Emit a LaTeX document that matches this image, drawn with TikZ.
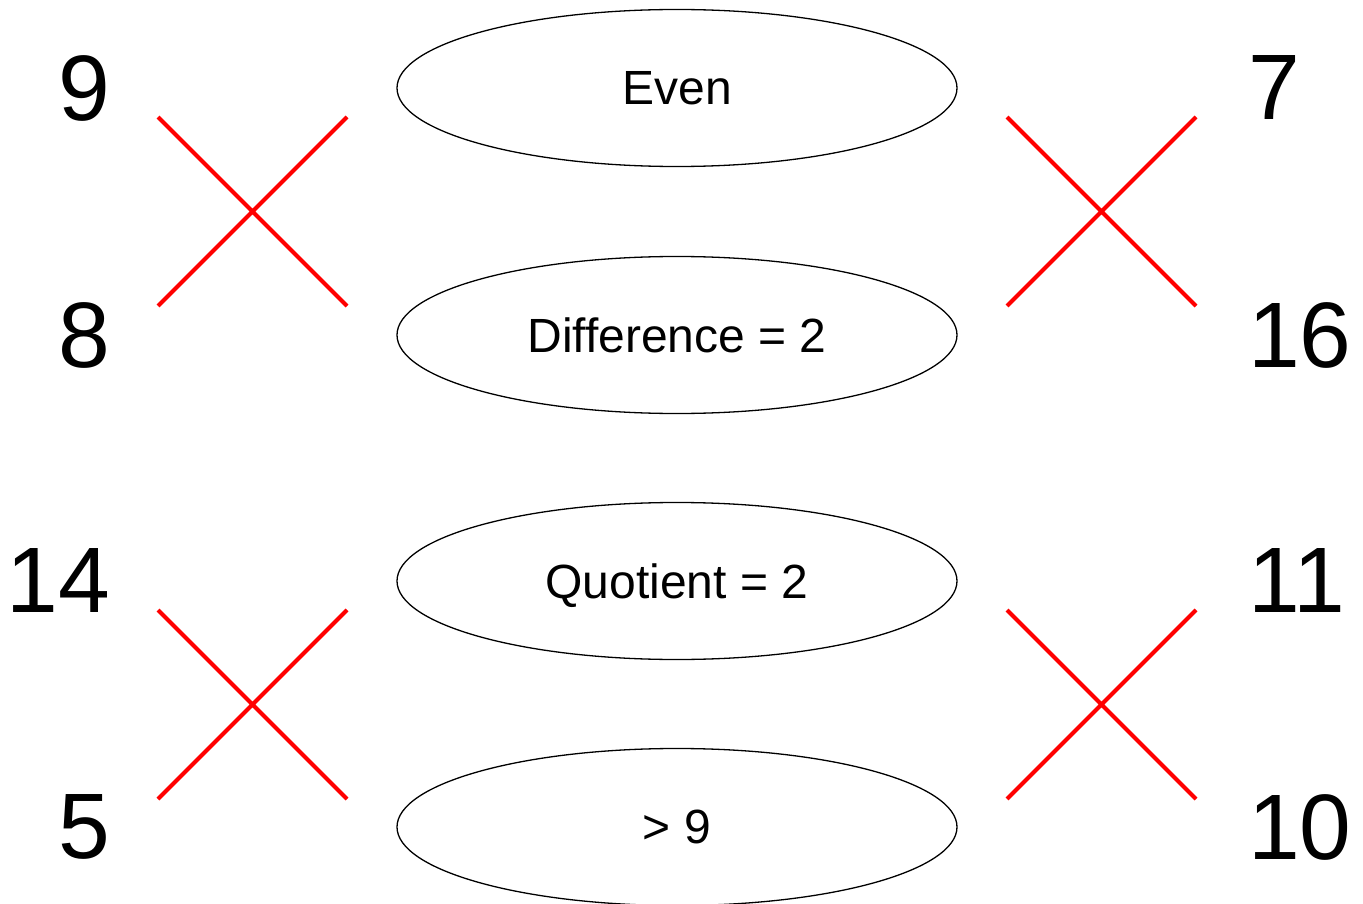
\documentclass[tikz,border=0pt]{standalone}
\usepackage{fontspec}
\setmainfont{Liberation Sans}
\usetikzlibrary{shapes.geometric}

\begin{document}
\begin{tikzpicture}[x=1pt,y=-1pt,
    rule/.style={ellipse,draw,line width=1.3pt,minimum width=560pt,minimum height=157pt,inner sep=0pt,text depth=0pt,font=\fontsize{48}{48}\selectfont},
    num/.style={inner sep=0pt,font=\fontsize{93}{93}\selectfont},
    cross/.style={red,line width=4pt}]
    \useasboundingbox (0,0) rectangle (1363,904);

    % draw the rules in the middle
    \foreach \y/\name/\txt in {88/even/Even, 335/diff/Difference = 2, 581/quot/Quotient = 2, 827/more/{> 9}}
        \node[rule] (\name) at (677,\y) {\txt};

    % numbers on the left
    \foreach \y/\name/\txt in {88/nine/9, 335/eight/8, 581/fourteen/14, 827/five/5}
        \node[num,anchor=east] (\name) at (110,\y) {\txt};

    % numbers on the right
    \foreach \y/\name/\txt in {88/seven/7, 335/sixteen/16, 581/eleven/11, 827/ten/10}
        \node[num,anchor=west] (\name) at (1248,\y) {\txt};

    % draw the red crosses
    \foreach \x/\y/\name in {158/117/tl, 1007/117/tr, 158/610/bl, 1007/610/br} {
        \coordinate (\name-nw) at (\x,\y);
        \coordinate (\name-ne) at (\x+189,\y);
        \coordinate (\name-sw) at (\x,\y+189);
        \coordinate (\name-se) at (\x+189,\y+189);
        \draw[cross] (\name-nw) -- (\name-se) (\name-sw) -- (\name-ne);
        }
\end{tikzpicture}
\end{document}
